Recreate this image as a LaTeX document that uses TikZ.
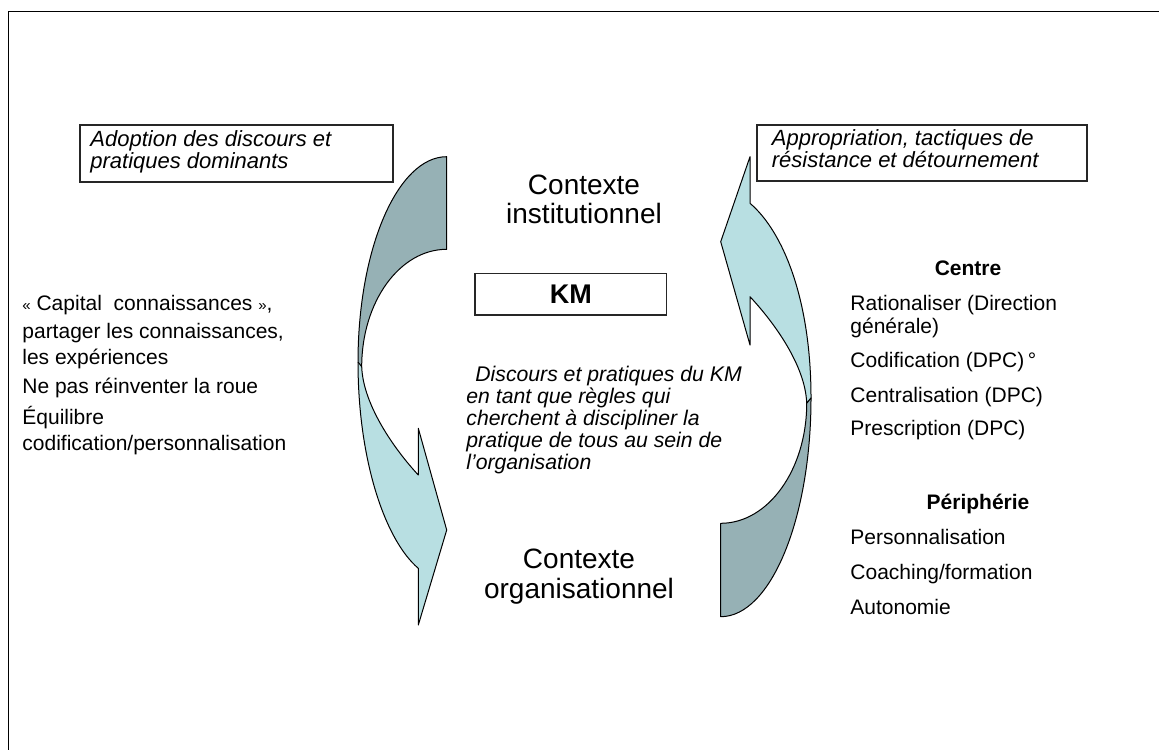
\documentclass[tikz,border=0pt]{standalone}
\usepackage{fontspec}
\setmainfont{Liberation Sans}
\definecolor{darkteal}{HTML}{96B1B5}
\definecolor{lightteal}{HTML}{B8DFE2}
\tikzset{
  frameline/.style={line width=0.85pt},
  tbox/.style={draw=black!85, line width=0.6pt},
  part/.style={draw=black, line width=0.5pt, line join=round},
  lbl/.style={inner sep=0pt, anchor=base west, font=\fontsize{10.5}{12}\selectfont},
  ital/.style={inner sep=0pt, anchor=base west, font=\fontsize{10.6}{12}\selectfont\itshape},
  boxtxt/.style={inner sep=0pt, anchor=base west, font=\fontsize{11}{12}\selectfont\itshape},
  ctx/.style={inner sep=0pt, anchor=base, font=\fontsize{14}{16}\selectfont},
  head/.style={inner sep=0pt, anchor=base, font=\fontsize{10.5}{12}\selectfont\bfseries},
}
\begin{document}
\begin{tikzpicture}[x=0.5pt,y=-0.5pt]
\useasboundingbox (0,0) rectangle (1159,749);
% outer frame (top and left edges only)
\draw[frameline] (1162,11.5) -- (8.5,11.5) -- (8.5,752);

% ---- left curved arrow (pointing down) ----
\coordinate (LA) at (446.7,156.7);
\coordinate (LB) at (446.7,249.3);
\coordinate (LL) at (358,362);
\coordinate (LC) at (361.7,366.7);
\coordinate (LD) at (418.3,568.3);
\coordinate (LE) at (418.3,625);
\coordinate (LT) at (446.7,530);
\coordinate (LF) at (418.3,428.3);
\coordinate (LG) at (418.3,475);
\fill[lightteal] (LL) .. controls (358,460) and (385,540) .. (LD) -- (LE) -- (LT) -- (LF) -- (LG)
  .. controls (395,450) and (363,405) .. (LC) -- cycle;
\draw[part] (LL) .. controls (358,460) and (385,540) .. (LD) -- (LE) -- (LT) -- (LF) -- (LG)
  .. controls (395,450) and (363,405) .. (LC);
\fill[darkteal] (LA) .. controls (397.7,156.7) and (358,248.6) .. (LL) -- (LC)
  .. controls (361.7,301.9) and (399.7,249.3) .. (LB) -- cycle;
\draw[part] (LA) .. controls (397.7,156.7) and (358,248.6) .. (LL) -- (LC)
  .. controls (361.7,301.9) and (399.7,249.3) .. (LB) -- cycle;

% ---- right curved arrow (pointing up) ----
\coordinate (RP) at (750,156.7);
\coordinate (RQ) at (720.7,241.7);
\coordinate (RR) at (750,345);
\coordinate (RS) at (750,296.7);
\coordinate (RU) at (750,203.3);
\coordinate (RM) at (811,398);
\coordinate (RX) at (806.7,403.3);
\coordinate (RV) at (720.7,616.7);
\coordinate (RW) at (720.7,523.3);
\fill[lightteal] (RP) -- (RQ) -- (RR) -- (RS) .. controls (773.3,321.7) and (805.4,365) .. (RX)
  -- (RM) .. controls (811,300) and (783.3,231.6) .. (RU) -- cycle;
\draw[part] (RX) -- (RM) .. controls (811,300) and (783.3,231.6) .. (RU) -- (RP) -- (RQ) -- (RR) -- (RS)
  .. controls (773.3,321.7) and (805.4,365) .. (RX);
\fill[darkteal] (RM) .. controls (811,518.8) and (770.6,616.7) .. (RV) -- (RW)
  .. controls (768.2,523.3) and (806.7,469.6) .. (RX) -- cycle;
\draw[part] (RM) .. controls (811,518.8) and (770.6,616.7) .. (RV) -- (RW)
  .. controls (768.2,523.3) and (806.7,469.6) .. (RX) -- cycle;

% ---- top boxes ----
\draw[tbox] (80,125) rectangle (393,182);
\node[boxtxt] (adopt1) at (90,146.5) {Adoption des discours et};
\node[boxtxt] (adopt2) at (90,168.5) {pratiques dominants};
\draw[tbox] (757,125) rectangle (1087,181);
\node[boxtxt] (appro1) at (771.5,145) {Appropriation, tactiques de};
\node[boxtxt] (appro2) at (771.5,167) {résistance et détournement};

% ---- centre ----
\node[ctx] (ctxi1) at (584,194) {Contexte};
\node[ctx] (ctxi2) at (584,223.5) {institutionnel};
\node[draw=black!85, line width=0.6pt, minimum width=95.85pt, minimum height=20.85pt, inner sep=0pt,
      font=\fontsize{13.5}{15}\selectfont\bfseries] (km) at (570.8,294.2) {KM};
\node[ital] (d1) at (475,381) {Discours et pratiques du KM};
\node[ital] (d2) at (466,403) {en tant que règles qui};
\node[ital] (d3) at (466,425) {cherchent à discipliner la};
\node[ital] (d4) at (466,447) {pratique de tous au sein de};
\node[ital] (d5) at (466,469) {l’organisation};
\node[ctx] (ctxo1) at (579,568) {Contexte};
\node[ctx] (ctxo2) at (579,598) {organisationnel};

% ---- left list ----
\node[lbl] (l1) at (22,310) {{\fontsize{7.5}{9}\selectfont «}~Capital\ \ connaissances~{\fontsize{7.5}{9}\selectfont »},};
\node[lbl] (l2) at (22,338) {partager les connaissances,};
\node[lbl] (l3) at (22,364.5) {les expériences};
\node[lbl] (l4) at (22,393) {Ne pas réinventer la roue};
\node[lbl] (l5) at (22,424) {Équilibre};
\node[lbl] (l6) at (22,450) {codification/personnalisation};

% ---- right list ----
\node[head] (centre) at (968,275) {Centre};
\node[lbl] (r1) at (850,310) {Rationaliser (Direction};
\node[lbl] (r2) at (850,333.5) {générale)};
\node[lbl] (r3) at (850,367) {Codification (DPC)\,°};
\node[lbl] (r4) at (850,402) {Centralisation (DPC)};
\node[lbl] (r5) at (850,435) {Prescription (DPC)};
\node[head] (peri) at (978,509) {Périphérie};
\node[lbl] (p1) at (850,544) {Personnalisation};
\node[lbl] (p2) at (850,579) {Coaching/formation};
\node[lbl] (p3) at (850,614) {Autonomie};
\end{tikzpicture}
\end{document}
